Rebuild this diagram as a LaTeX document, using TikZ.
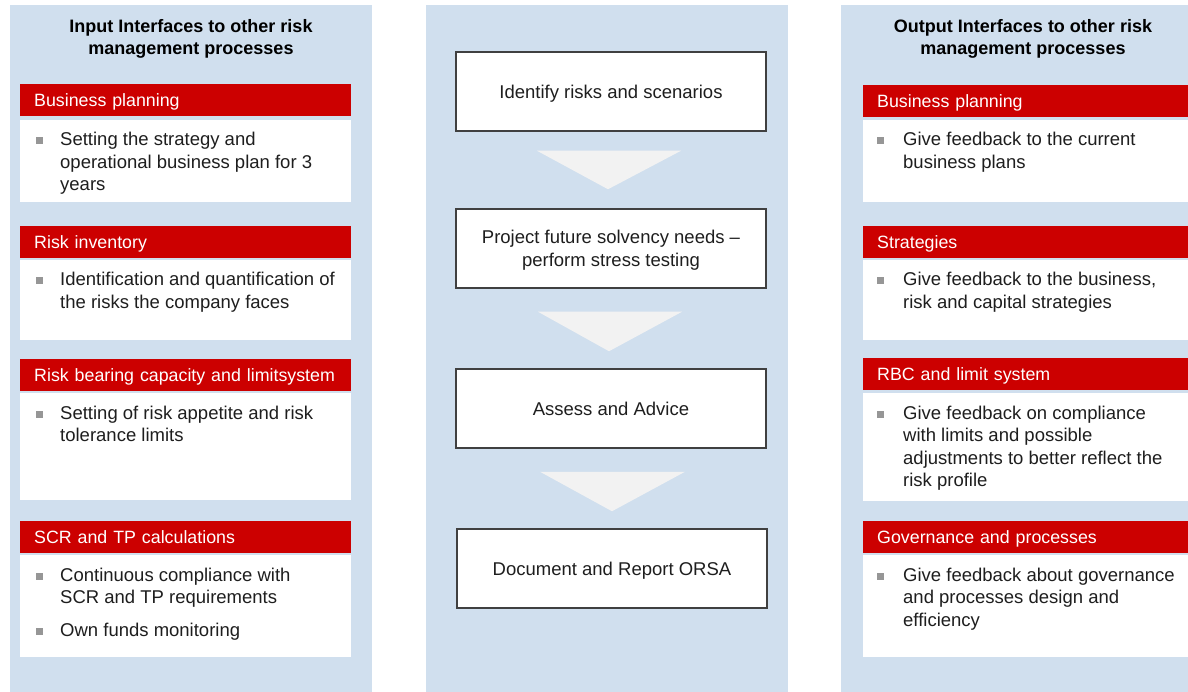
\documentclass[tikz,border=0pt]{standalone}
\usepackage{fontspec}
\setmainfont{Liberation Sans}
\usetikzlibrary{calc}
\definecolor{panelbg}{RGB}{208,223,238}
\definecolor{hdrred}{RGB}{204,0,0}
\definecolor{chevgray}{RGB}{242,242,242}
\definecolor{boxline}{RGB}{64,64,64}
\definecolor{bodytext}{RGB}{30,30,30}
\definecolor{bulletgray}{RGB}{150,150,150}
\begin{document}
% multi-line nodes anchored at "base west" sit on the baseline of their LAST line
\begin{tikzpicture}[x=1pt,y=-1pt,
  panel/.style={fill=panelbg, draw=none, inner sep=0pt, anchor=north west, minimum height=687pt},
  hdr/.style={fill=hdrred, draw=none, anchor=north west, minimum height=32pt, inner xsep=14pt, inner ysep=0pt,
    text width=303pt, align=left, text height=13pt, text depth=0pt, text=white, font=\fontsize{17.8}{21}\selectfont},
  wbox/.style={fill=white, draw=none, inner sep=0pt, anchor=north west, minimum width=331pt},
  bodytxt/.style={text=bodytext, font=\fontsize{18.5}{22.5}\selectfont, align=left, anchor=base west, inner sep=0pt},
  bul/.style={fill=bulletgray, minimum size=7pt, inner sep=0pt, draw=none},
  ttl/.style={font=\bfseries\fontsize{18}{22}\selectfont, align=center, inner sep=0pt, anchor=base, text=black},
  stepbox/.style={draw=boxline, line width=1.5pt, fill=white, minimum width=310pt, minimum height=79pt,
    align=center, inner sep=0pt, text depth=0pt, text=bodytext, font=\fontsize{18.5}{22.5}\selectfont},
  chev/.style={fill=chevgray, draw=none}
]
\useasboundingbox (0,0) rectangle (1188,692);

% panels
\node[panel, minimum width=362pt] (pl) at (10,5) {};
\node[panel, minimum width=362pt] (pm) at (426,5) {};
\node[panel, minimum width=360pt] (pr) at (841,5) {};

% titles
\node[ttl] (tl) at (191,55) {Input Interfaces to other risk\\management processes};
\node[ttl] (tr) at (1023,55) {Output Interfaces to other risk\\management processes};

% ---------- left column ----------
\node[hdr] (lh1) at (20,84) {Business planning};
\node[wbox, minimum height=82pt] (lw1) at (20,120) {};
\node[bul] (lb1) at (39,141) {};
\node[bodytxt] (lt1) at (60,191) {Setting the strategy and\\operational business plan for 3\\years};

\node[hdr] (lh2) at (20,226) {Risk inventory};
\node[wbox, minimum height=80pt] (lw2) at (20,260) {};
\node[bul] (lb2) at (39,281) {};
\node[bodytxt] (lt2) at (60,308.5) {Identification and quantification of\\the risks the company faces};

\node[hdr] (lh3) at (20,359) {Risk bearing capacity and limitsystem};
\node[wbox, minimum height=107pt] (lw3) at (20,393) {};
\node[bul] (lb3) at (39,414) {};
\node[bodytxt] (lt3) at (60,441.5) {Setting of risk appetite and risk\\tolerance limits};

\node[hdr] (lh4) at (20,521) {SCR and TP calculations};
\node[wbox, minimum height=102pt] (lw4) at (20,555) {};
\node[bul] (lb4a) at (39,576) {};
\node[bodytxt] (lt4a) at (60,603.5) {Continuous compliance with\\SCR and TP requirements};
\node[bul] (lb4b) at (39,631) {};
\node[bodytxt] (lt4b) at (60,636) {Own funds monitoring};

% ---------- middle column ----------
\node[stepbox] (m1) at (611,91.5) {Identify risks and scenarios};
\node[stepbox] (m2) at (611,248.5) {Project future solvency needs –\\perform stress testing};
\node[stepbox] (m3) at (611,408.5) {Assess and Advice};
\node[stepbox] (m4) at (612,568.5) {Document and Report ORSA};

\fill[chev] ($(m1.south)+(-74,19)$) -- ($(m1.south)+(70,19)$) -- ($(m2.north)+(-3,-19)$) -- cycle;
\fill[chev] ($(m2.south)+(-73,23)$) -- ($(m2.south)+(71,23)$) -- ($(m3.north)+(-2,-17)$) -- cycle;
\fill[chev] ($(m3.south)+(-71,23)$) -- ($(m3.south)+(74,23)$) -- ($(m4.north)+(0,-17)$) -- cycle;

% ---------- right column ----------
\node[hdr] (rh1) at (863,85) {Business planning};
\node[wbox, minimum height=82pt] (rw1) at (863,120) {};
\node[bul] (rb1) at (880.5,141) {};
\node[bodytxt] (rt1) at (903,168.5) {Give feedback to the current\\business plans};

\node[hdr] (rh2) at (863,226) {Strategies};
\node[wbox, minimum height=80pt] (rw2) at (863,260) {};
\node[bul] (rb2) at (880.5,281) {};
\node[bodytxt] (rt2) at (903,308.5) {Give feedback to the business,\\risk and capital strategies};

\node[hdr] (rh3) at (863,358) {RBC and limit system};
\node[wbox, minimum height=108pt] (rw3) at (863,393) {};
\node[bul] (rb3) at (880.5,414) {};
\node[bodytxt] (rt3) at (903,486.5) {Give feedback on compliance\\with limits and possible\\adjustments to better reflect the\\risk profile};

\node[hdr] (rh4) at (863,521) {Governance and processes};
\node[wbox, minimum height=102pt] (rw4) at (863,555) {};
\node[bul] (rb4) at (880.5,576) {};
\node[bodytxt] (rt4) at (903,626) {Give feedback about governance\\and processes design and\\efficiency};
\end{tikzpicture}
\end{document}
